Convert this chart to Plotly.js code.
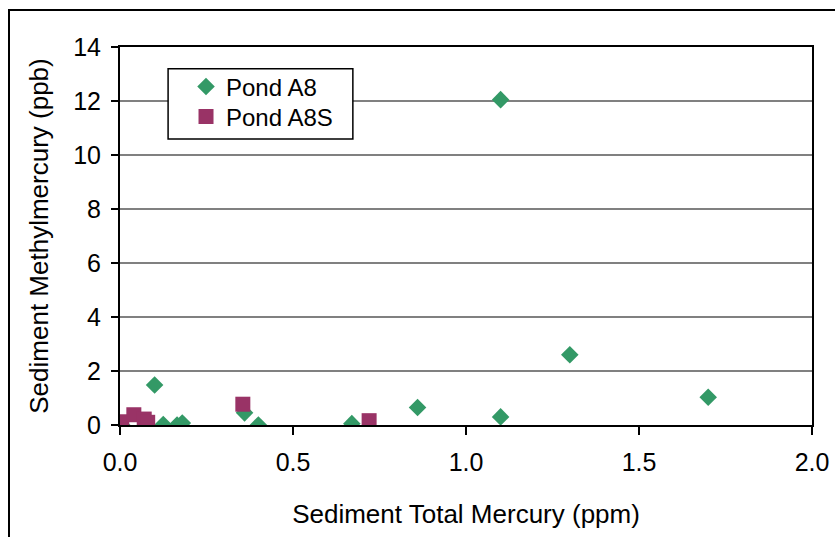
<!DOCTYPE html>
<html>
<head>
<meta charset="utf-8">
<script src="https://cdn.plot.ly/plotly-3.0.1.min.js"></script>
<style>
html,body{margin:0;padding:0;overflow:hidden;background:#fff;width:835px;height:537px;}
#frame{position:absolute;left:8px;top:9px;width:900px;height:600px;border:2px solid #000;}
#chart{position:absolute;left:0;top:0;width:835px;height:537px;}
</style>
</head>
<body>
<div id="frame"></div>
<div id="chart"></div>
<script>
// Pond A8 (green diamonds)
const a8X = [0.005, 0.10, 0.125, 0.165, 0.18, 0.36, 0.40, 0.67, 0.86, 1.10, 1.10, 1.30, 1.70];
const a8Y = [0.00, 1.48, 0.02, 0.00, 0.07, 0.45, 0.00, 0.05, 0.65, 0.30, 12.05, 2.60, 1.03];
// Pond A8S (purple squares)
const a8sX = [0.005, 0.04, 0.07, 0.08, 0.355, 0.72];
const a8sY = [0.12, 0.38, 0.22, 0.10, 0.77, 0.16];

const seriesNames = ["Pond A8", "Pond A8S"];
const xTickVals = [0, 0.5, 1.0, 1.5, 2.0];
const xTickText = ["0.0", "0.5", "1.0", "1.5", "2.0"];
const yTickVals = [0, 2, 4, 6, 8, 10, 12, 14];

const font = "Liberation Sans, Arial, sans-serif";

const traces = [
  {x: a8X, y: a8Y, name: seriesNames[0], type: "scatter", mode: "markers", legend: "legend",
   marker: {symbol: "diamond", size: 13.5, color: "#339966"}},
  {x: a8sX, y: a8sY, name: seriesNames[1], type: "scatter", mode: "markers", legend: "legend2",
   marker: {symbol: "square", size: 15, color: "#993366"}}
];

const legendBase = {xanchor: "left", yanchor: "middle", bgcolor: "rgba(0,0,0,0)",
                    borderwidth: 0, font: {family: font, size: 24, color: "#000"}};

const layout = {
  width: 835, height: 537,
  margin: {l: 120, r: 23, t: 47, b: 112},
  paper_bgcolor: "rgba(0,0,0,0)",
  plot_bgcolor: "#fff",
  font: {family: font, size: 24, color: "#000"},
  showlegend: true,
  legend: Object.assign({x: 0.0954, y: 0.8942}, legendBase),
  legend2: Object.assign({x: 0.0954, y: 0.8148}, legendBase),
  shapes: [{type: "rect", xref: "x", yref: "y", x0: 0.139, x1: 0.673, y0: 10.59, y1: 13.19,
            fillcolor: "#fff", line: {color: "#000", width: 1.5}, layer: "above"}],
  xaxis: {range: [0, 2], tickvals: xTickVals, ticktext: xTickText,
          ticks: "outside", ticklen: 8, tickwidth: 2, tickcolor: "#000",
          ticklabelstandoff: 6,
          showline: true, linecolor: "#000", linewidth: 2, mirror: true,
          showgrid: false, zeroline: false,
          tickfont: {family: font, size: 25},
          title: {text: "Sediment Total Mercury (ppm)", font: {family: font, size: 26}, standoff: 30}},
  yaxis: {range: [0, 14], tickvals: yTickVals,
          ticks: "outside", ticklen: 7, tickwidth: 2, tickcolor: "#000",
          ticklabelstandoff: 5,
          showline: true, linecolor: "#000", linewidth: 2, mirror: true,
          showgrid: true, gridcolor: "#808080", gridwidth: 1.3, zeroline: false,
          tickfont: {family: font, size: 25},
          title: {text: "Sediment Methylmercury (ppb)", font: {family: font, size: 26}, standoff: 17}}
};

Plotly.newPlot("chart", traces, layout, {displayModeBar: false, staticPlot: true});
</script>
</body>
</html>
